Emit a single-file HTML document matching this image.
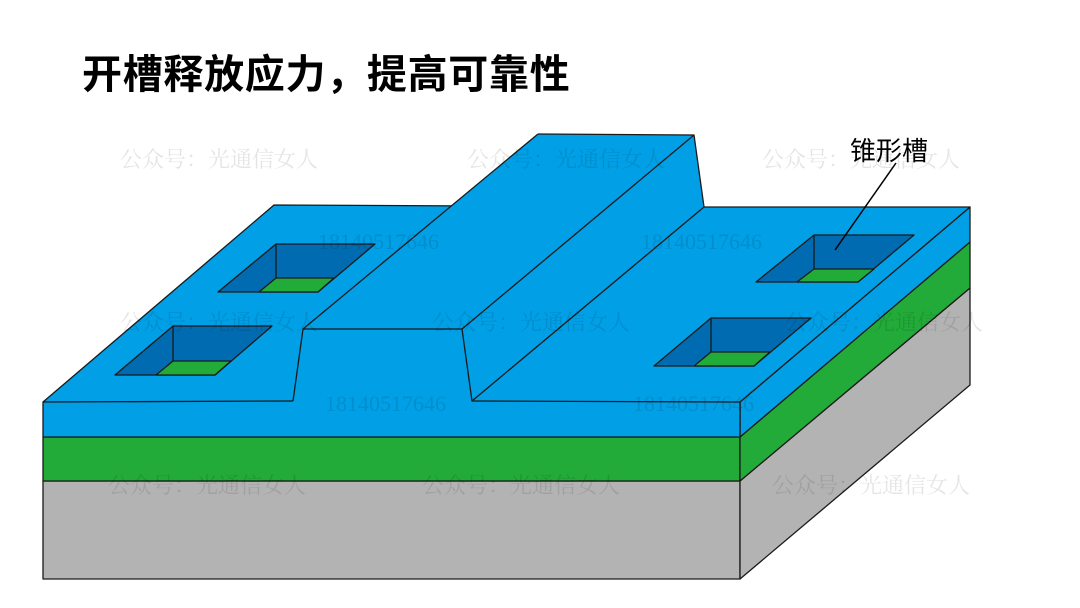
<!DOCTYPE html>
<html><head><meta charset="utf-8"><style>
body{margin:0;width:1080px;height:608px;background:#fff;overflow:hidden}
svg{display:block}
</style></head><body>
<svg width="1080" height="608" viewBox="0 0 1080 608" xmlns="http://www.w3.org/2000/svg">
<text x="82" y="88" font-family="Liberation Sans, Noto Sans CJK SC, sans-serif" font-weight="bold" font-size="40" letter-spacing="0.7" fill="#000">开槽释放应力，提高可靠性</text>
<g stroke="#1a1a1a" stroke-width="1.3" stroke-linejoin="round">
<polygon points="43,481 740,481 740,579 43,579" fill="#b3b3b3"/>
<polygon points="740,481 970,288 970,385 740,579" fill="#b3b3b3"/>
<polygon points="43,437 740,437 740,481 43,481" fill="#22ab38"/>
<polygon points="740,437 970,242 970,288 740,481" fill="#22ab38"/>
<polygon points="740,402 970,207 970,242 740,437" fill="#009fe6"/>
<polygon points="43,402 274,205 704,207 970,207 740,402" fill="#009fe6" stroke="none"/>
<polygon points="43,402 740,402 740,437 43,437" fill="#009fe6" stroke="none"/>
<polyline points="43,437 43,402 274,205 704,207 970,207 740,402 740,437 43,437" fill="none"/>
<polygon points="538,134 694,135 704,207 472,401 293,401 303,329" fill="#009fe6" stroke="none"/>
<polyline points="538,134 694,135 704,207" fill="none"/>
<polyline points="538,134 303,329 462,329 694,135" fill="none"/>
<polyline points="303,329 293,401" fill="none"/>
<polyline points="462,329 472,401 704,207" fill="none"/>
<line x1="43" y1="402" x2="293" y2="401"/>
<line x1="472" y1="401" x2="740" y2="402"/>
<polygon points="276,244 375,244 318,292 218,292" fill="#006bb0"/>
<polygon points="276,278 334,278 318,292 259,292" fill="#22ab38"/>
<line x1="276" y1="244" x2="276" y2="278"/>
<polygon points="173,326 272,326 215,375 115,375" fill="#006bb0"/>
<polygon points="173,361 231,361 215,375 156,375" fill="#22ab38"/>
<line x1="173" y1="326" x2="173" y2="361"/>
<polygon points="814,235 914,235 858,282 756,282" fill="#006bb0"/>
<polygon points="814,269 874,269 858,282 797,282" fill="#22ab38"/>
<line x1="814" y1="235" x2="814" y2="269"/>
<polygon points="711,318 811,318 754,366 654,366" fill="#006bb0"/>
<polygon points="711,352 770,352 754,366 694,366" fill="#22ab38"/>
<line x1="711" y1="318" x2="711" y2="352"/>
</g>
<line x1="896" y1="163" x2="835" y2="250" stroke="#000" stroke-width="1.5"/>
<text x="850" y="160" font-family="Liberation Sans, Noto Sans CJK SC, sans-serif" font-size="26" fill="#000">锥形槽</text>
<g font-family="Liberation Serif, Noto Serif CJK SC, serif" font-size="22" fill="#000" opacity="0.1">
<text x="120" y="167">公众号：光通信女人</text>
<text x="467" y="167">公众号：光通信女人</text>
<text x="762" y="167">公众号：光通信女人</text>
<text x="120" y="330">公众号：光通信女人</text>
<text x="432" y="330">公众号：光通信女人</text>
<text x="785" y="330">公众号：光通信女人</text>
<text x="108" y="493">公众号：光通信女人</text>
<text x="422" y="493">公众号：光通信女人</text>
<text x="772" y="493">公众号：光通信女人</text>
<text x="318" y="249">18140517646</text>
<text x="641" y="249">18140517646</text>
<text x="325" y="411">18140517646</text>
<text x="633" y="411">18140517646</text>
</g>
</svg>
</body></html>
